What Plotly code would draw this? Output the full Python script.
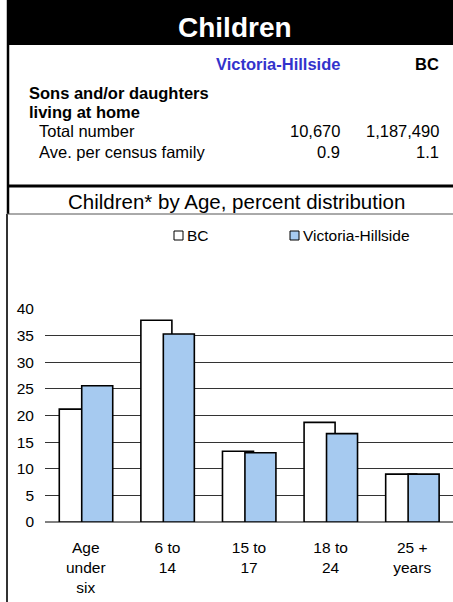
import plotly.graph_objects as go

# ---- data ----
categories = ["Age<br>under<br>six", "6 to<br>14", "15 to<br>17", "18 to<br>24", "25 +<br>years"]
bc_values = [21.2, 37.9, 13.3, 18.7, 9.0]
vh_values = [25.6, 35.3, 13.0, 16.6, 9.0]
y_ticks = [0, 5, 10, 15, 20, 25, 30, 35, 40]

table_cols = ["Victoria-Hillside", "BC"]
table_rows = ["Total number", "Ave. per census family"]
vh_table = ["10,670", "0.9"]
bc_table = ["1,187,490", "1.1"]

W, H = 453, 602
L, R, T, B = 45, 0, 309, 80
PW = W - L - R
PH = H - T - B
FONT = "Liberation Sans, Arial, sans-serif"


def px(x):
    return (x - L) / PW


def py(y):
    return (H - B - y) / PH


def note(x, y, text, size=16, color="black", anchor="left"):
    return dict(x=px(x), y=py(y), xref="paper", yref="paper", text=text, showarrow=False,
                font=dict(family=FONT, size=size, color=color), xanchor=anchor, yanchor="middle")


xs = list(range(len(categories)))

fig = go.Figure()
fig.add_trace(go.Bar(
    x=xs, y=bc_values, name="BC", width=0.38, offset=-0.325,
    marker=dict(color="white", line=dict(color="black", width=1.6)),
))
fig.add_trace(go.Bar(
    x=xs, y=vh_values, name="Victoria-Hillside", width=0.38, offset=-0.05,
    marker=dict(color="#A6CAF0", line=dict(color="black", width=1.6)),
))

shapes = []
annots = []

# header band
shapes.append(dict(type="rect", xref="paper", yref="paper", x0=px(7), x1=px(W), y0=py(0), y1=py(45),
                   fillcolor="black", line=dict(width=0), layer="above"))
annots.append(note(235, 27, "<b>Children</b>", size=28, color="white", anchor="center"))
# left border
shapes.append(dict(type="line", xref="paper", yref="paper", x0=px(8), x1=px(8), y0=py(0), y1=py(214),
                   line=dict(color="black", width=2.5)))
shapes.append(dict(type="line", xref="paper", yref="paper", x0=px(7), x1=px(7), y0=py(214), y1=py(H),
                   line=dict(color="#333333", width=2)))
# separator lines
shapes.append(dict(type="line", xref="paper", yref="paper", x0=px(7), x1=px(W), y0=py(186), y1=py(186),
                   line=dict(color="black", width=3)))
shapes.append(dict(type="line", xref="paper", yref="paper", x0=px(7), x1=px(W), y0=py(214), y1=py(214),
                   line=dict(color="#555555", width=1)))

# table text
annots.append(note(342, 64, "<b>" + table_cols[0] + "</b>", size=16.5, color="#3333CC", anchor="right"))
annots.append(note(441, 64, "<b>" + table_cols[1] + "</b>", size=16.5, anchor="right"))
annots.append(note(27, 93, "<b>Sons and/or daughters</b>", size=16.5))
annots.append(note(27, 112, "<b>living at home</b>", size=16.5))
for i, (lab, v1, v2) in enumerate(zip(table_rows, vh_table, bc_table)):
    yy = 131 + i * 20.5
    annots.append(note(37, yy, lab, size=16.5))
    annots.append(note(342, yy, v1, size=16.5, anchor="right"))
    annots.append(note(441, yy, v2, size=16.5, anchor="right"))

# chart title
annots.append(note(236, 201, "Children* by Age, percent distribution", size=20.5, anchor="center"))

# manual legend
for sx, tx, fill in [(174, "BC", "white"), (290, "Victoria-Hillside", "#A6CAF0")]:
    shapes.append(dict(type="rect", xref="paper", yref="paper", x0=px(sx), x1=px(sx + 9),
                       y0=py(231), y1=py(240), fillcolor=fill, line=dict(color="black", width=1)))
    annots.append(note(sx + 11, 235.5, tx, size=15.5))

fig.update_layout(
    width=W, height=H,
    margin=dict(l=L, r=R, t=T, b=B, pad=0),
    paper_bgcolor="white", plot_bgcolor="white",
    barmode="overlay",
    showlegend=False,
    shapes=shapes,
    annotations=annots,
    font=dict(family=FONT, size=15, color="black"),
)
fig.update_xaxes(
    range=[-0.5, len(categories) - 0.5], tickmode="array", tickvals=xs, ticktext=categories,
    showgrid=False, zeroline=False, showline=False, ticks="",
    tickfont=dict(family=FONT, size=15.5, color="black"), ticklabelstandoff=14, fixedrange=True,
)
fig.update_yaxes(
    range=[0, 40], tickmode="array", tickvals=y_ticks,
    showgrid=True, gridcolor="#333333", gridwidth=1,
    zeroline=True, zerolinecolor="#808080", zerolinewidth=2,
    showline=False, ticks="", tickfont=dict(family=FONT, size=15.5, color="black"),
    ticklabelstandoff=10, fixedrange=True,
)

fig.write_html("out.html", config=dict(displayModeBar=False),
               post_script="document.body.style.margin='0';document.body.style.overflow='hidden';")
